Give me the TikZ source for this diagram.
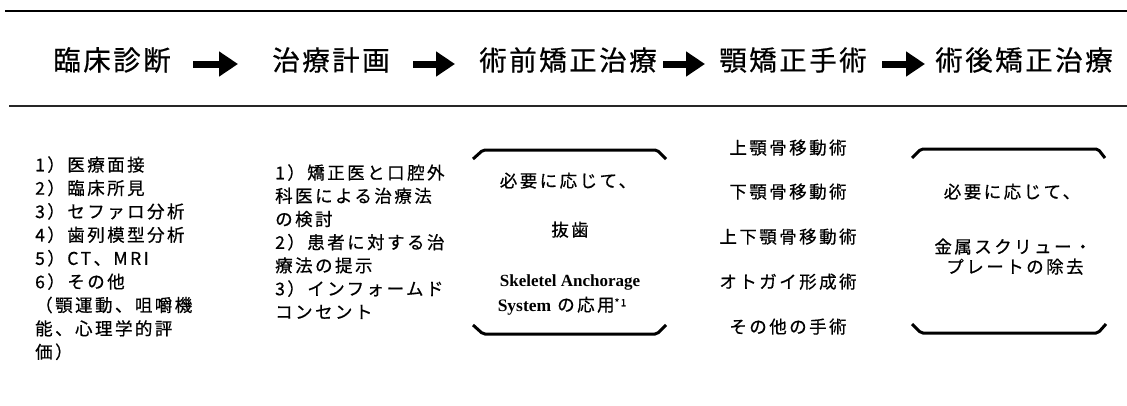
\documentclass[tikz,border=0pt]{standalone}
\usepackage{fontspec}
\usetikzlibrary{arrows.meta}
\newfontfamily\jph[LetterSpace=9,FakeBold=0.6]{Noto Sans CJK JP}
\newfontfamily\jpb[LetterSpace=14,FakeBold=0.6]{Noto Sans CJK JP}
\newfontfamily\tms{Liberation Serif}
\tikzset{
  head/.style={font=\jph\fontsize{27.5}{30}\selectfont, inner sep=0pt},
  body/.style={font=\jpb\fontsize{17.5}{20}\selectfont, inner sep=0pt, text height=15pt, text depth=2.5pt},
  latin/.style={font=\tms\bfseries\fontsize{17}{20}\selectfont, inner sep=0pt, text height=15pt, text depth=2.5pt},
  blockarrow/.style={line width=7pt, -{Triangle[length=19pt,width=24pt]}},
  bracket/.style={line width=3pt, rounded corners=2pt},
  rule/.style={line width=2pt}
}
\begin{document}
\begin{tikzpicture}[x=1pt,y=-1pt]
\useasboundingbox (0,0) rectangle (1127,405);
% rules
\draw[rule] (5,11) -- (1127,11);
\draw[rule, line width=2.6pt, black!85] (9,106) -- (1127,106);
% header
\node[head] (h1) at (112,60) {臨床診断};
\node[head] (h2) at (331,60) {治療計画};
\node[head] (h3) at (568,60) {術前矯正治療};
\node[head] (h4) at (793,60) {顎矯正手術};
\node[head] (h5) at (1024,60) {術後矯正治療};
\coordinate (a1s) at (193,64); \coordinate (a1e) at (238,64);
\coordinate (a2s) at (413,64); \coordinate (a2e) at (455,64);
\coordinate (a3s) at (663,64); \coordinate (a3e) at (705,64);
\coordinate (a4s) at (882,64); \coordinate (a4e) at (925,64);
\draw[blockarrow] (a1s) -- (a1e);
\draw[blockarrow] (a2s) -- (a2e);
\draw[blockarrow] (a3s) -- (a3e);
\draw[blockarrow] (a4s) -- (a4e);
% column 1
\foreach \t [count=\i] in {1）医療面接, 2）臨床所見, 3）セファロ分析, 4）歯列模型分析, 5）CT、MRI, 6）その他, （顎運動、咀嚼機, 能、心理学的評, 価）}
  \node[body, anchor=west] (l\i) at (35,{165+23.4*(\i-1)}) {\t};
% column 2
\foreach \t [count=\i] in {1）矯正医と口腔外, 科医による治療法, の検討, 2）患者に対する治, 療法の提示, 3）インフォームド, コンセント}
  \node[body, anchor=west] (p\i) at (275,{173+23.2*(\i-1)}) {\t};
% column 3 box
\draw[bracket] (473,159) -- (483,150) -- (657,150) -- (666,159);
\draw[bracket] (473,325) -- (483,334) -- (657,334) -- (666,325);
\node[body] (b1) at (568,181) {必要に応じて、};
\node[body] (b2) at (570,230) {抜歯};
\node[latin] (b3) at (570,280) {Skeletel Anchorage};
\node[body] (b4) at (562,305) {{\tms\bfseries System}\hspace{6pt}の応用{\fontsize{10}{10}\selectfont\raisebox{5pt}{*1}}};
% column 4
\foreach \t/\y [count=\i] in {上顎骨移動術/148, 下顎骨移動術/192, 上下顎骨移動術/237, オトガイ形成術/282, その他の手術/327}
  \node[body] (s\i) at (788,\y) {\t};
% column 5 box
\draw[bracket] (912,158) -- (921,149) -- (1098,149) -- (1105,158);
\draw[bracket] (912,324) -- (921,333) -- (1098,333) -- (1106,324);
\node[body] (c1) at (1012,192) {必要に応じて、};
\node[body] (c2) at (1013,247) {金属スクリュー・};
\node[body] (c3) at (1015,267) {プレートの除去};
\end{tikzpicture}
\end{document}
